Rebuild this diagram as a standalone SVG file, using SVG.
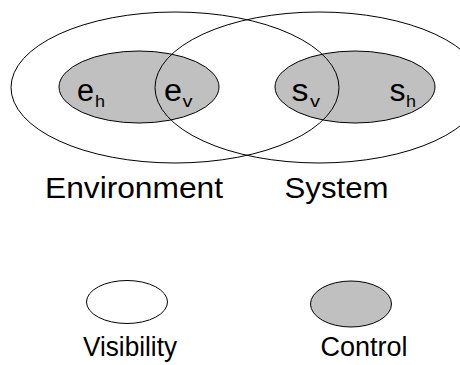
<svg xmlns="http://www.w3.org/2000/svg" width="460" height="365" viewBox="0 0 460 365">
  <style>
    .outline { fill: none; stroke: #000; stroke-width: 1; }
    .control { fill: #c0c0c0; stroke: #000; stroke-width: 1; }
    .visible { fill: #fff; stroke: #000; stroke-width: 1; }
    text { font-family: "Liberation Sans", Arial, sans-serif; fill: #000; }
    .sym { font-size: 31px; }
    .sub { font-size: 16px; }
    .label { font-size: 29px; }
    .legend { font-size: 27px; }
  </style>
  <rect width="460" height="365" fill="#fff"/>

  <!-- control regions (shaded) -->
  <g id="env-control">
    <ellipse class="control" cx="139" cy="87" rx="80" ry="36"/>
  </g>
  <g id="sys-control">
    <ellipse class="control" cx="355" cy="87" rx="80" ry="36"/>
  </g>

  <!-- visibility regions (outlines) -->
  <g id="environment">
    <ellipse class="outline" cx="175" cy="87.5" rx="164" ry="75.5"/>
    <text class="label" x="45" y="198" textLength="178" lengthAdjust="spacingAndGlyphs">Environment</text>
  </g>
  <g id="system">
    <ellipse class="outline" cx="319" cy="87.5" rx="164" ry="75.5"/>
    <text class="label" x="284.5" y="198" textLength="104" lengthAdjust="spacingAndGlyphs">System</text>
  </g>

  <!-- variable labels -->
  <g id="eh">
    <text class="sym" x="77" y="100.5" textLength="17" lengthAdjust="spacingAndGlyphs">e</text>
    <text class="sub" x="95" y="106.5" textLength="10" lengthAdjust="spacingAndGlyphs">h</text>
  </g>
  <g id="ev">
    <text class="sym" x="164" y="100.5" textLength="18" lengthAdjust="spacingAndGlyphs">e</text>
    <text class="sub" x="182.5" y="106.5" textLength="10" lengthAdjust="spacingAndGlyphs">v</text>
  </g>
  <g id="sv">
    <text class="sym" x="291.5" y="100.5" textLength="17" lengthAdjust="spacingAndGlyphs">s</text>
    <text class="sub" x="310" y="106.5" textLength="10" lengthAdjust="spacingAndGlyphs">v</text>
  </g>
  <g id="sh">
    <text class="sym" x="389.5" y="100.5" textLength="16" lengthAdjust="spacingAndGlyphs">s</text>
    <text class="sub" x="406" y="106.5" textLength="10" lengthAdjust="spacingAndGlyphs">h</text>
  </g>

  <!-- legend -->
  <g id="legend-visibility">
    <ellipse class="visible" cx="127" cy="302" rx="40.5" ry="21.5"/>
    <text class="legend" x="83" y="356" textLength="94" lengthAdjust="spacingAndGlyphs">Visibility</text>
  </g>
  <g id="legend-control">
    <ellipse class="control" cx="351" cy="304" rx="40.5" ry="23"/>
    <text class="legend" x="320.5" y="356">Control</text>
  </g>
</svg>
